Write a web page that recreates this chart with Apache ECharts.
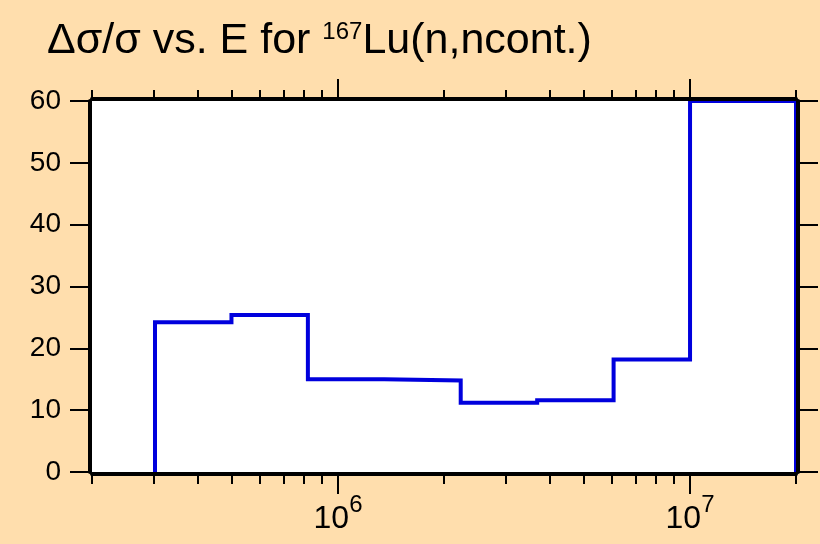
<!DOCTYPE html>
<html>
<head>
<meta charset="utf-8">
<script src="https://cdn.jsdelivr.net/npm/echarts@6/dist/echarts.min.js"></script>
<style>
  html, body { margin: 0; padding: 0; background: #FFDEAD; }
  #chart { width: 820px; height: 544px; }
</style>
</head>
<body>
<div id="chart"></div>
<script>
// bin edges (eV) and relative uncertainty (%) per bin
const binEdges = [3.02e5, 4.98e5, 8.21e5, 1.353e6, 2.231e6, 3.679e6, 6.065e6, 1e7, 2e7]
const binValues = [24.2, 25.4, 15.0, 14.8, 11.2, 11.6, 18.2, 60]
const xMajorTicks = [1e6, 1e7]
const xMajorExp = ['6', '7']
const xMinorTicks = [2e5, 3e5, 4e5, 5e5, 6e5, 7e5, 8e5, 9e5,
  2e6, 3e6, 4e6, 5e6, 6e6, 7e6, 8e6, 9e6, 2e7]

// histogram outline
const points = [[binEdges[0], 0]]
binValues.forEach((v, i) => {
  points.push([binEdges[i], v])
  points.push([binEdges[i + 1], v])
})
points.push([binEdges[binEdges.length - 1], 0])

const font = 'Liberation Sans, Arial, sans-serif'
const black = '#000'
const lineW = 4

function logAxis (pos, ticks, len, showLine, labels) {
  return {
    type: 'log',
    position: pos,
    offset: 2,
    min: 2e5,
    max: 2e7,
    z: 5,
    axisLine: { show: showLine, onZero: false, lineStyle: { color: black, width: lineW } },
    axisTick: { show: true, inside: false, length: len, customValues: ticks, lineStyle: { color: black, width: 2 } },
    axisLabel: labels ? {
      show: true,
      customValues: xMajorTicks,
      margin: 19,
      formatter: v => '{b|10}{s|' + xMajorExp[xMajorTicks.indexOf(v)] + '}',
      rich: {
        b: { fontSize: 32, lineHeight: 52, fontFamily: font, color: black },
        s: { fontSize: 24, lineHeight: 24, fontFamily: font, color: black, verticalAlign: 'top' }
      }
    } : { show: false },
    splitLine: { show: false }
  }
}

function valAxis (pos, showLabels) {
  return {
    type: 'value',
    position: pos,
    offset: 2,
    min: 0,
    max: 60,
    interval: 10,
    z: 5,
    axisLine: { show: true, lineStyle: { color: black, width: lineW } },
    axisTick: { show: true, inside: false, length: 20, lineStyle: { color: black, width: 2 } },
    axisLabel: { show: showLabels, margin: 29, fontSize: 28, fontFamily: font, color: black },
    splitLine: { show: false }
  }
}

const chart = echarts.init(document.getElementById('chart'))
chart.setOption({
  backgroundColor: '#FFDEAD',
  animation: false,
  title: {
    text: '{a|Δσ/σ vs. E for }{s|167}{a|Lu(n,ncont.)}',
    left: 42,
    top: 9,
    textStyle: {
      rich: {
        a: { fontSize: 43, lineHeight: 54, fontWeight: 'normal', fontFamily: font, color: black },
        s: { fontSize: 24, lineHeight: 24, fontWeight: 'normal', fontFamily: font, color: black, verticalAlign: 'top', padding: [6, 0, 0, 0] }
      }
    }
  },
  grid: {
    left: 92,
    right: 24,
    top: 101,
    bottom: 72,
    show: true,
    backgroundColor: '#fff',
    borderWidth: 0
  },
  xAxis: [
    logAxis('bottom', xMajorTicks, 20, true, true),
    logAxis('bottom', xMinorTicks, 10, false, false),
    logAxis('top', xMajorTicks, 20, true, false),
    logAxis('top', xMinorTicks, 9, false, false)
  ],
  yAxis: [
    valAxis('left', true),
    valAxis('right', false)
  ],
  series: [{
    type: 'line',
    data: points,
    showSymbol: false,
    clip: false,
    z: 2,
    lineStyle: { color: '#0000dd', width: 4, join: 'miter' }
  }]
})
</script>
</body>
</html>
